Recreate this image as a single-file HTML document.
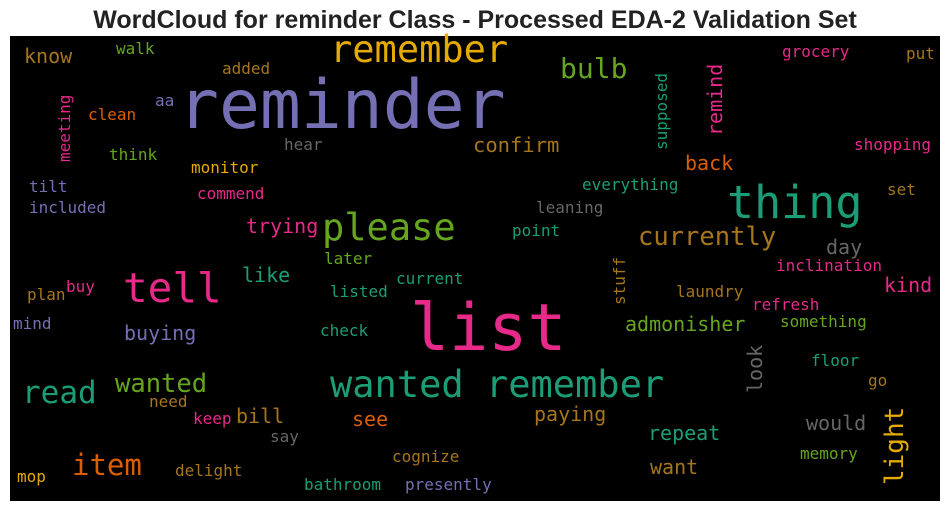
<!DOCTYPE html>
<html><head><meta charset="utf-8"><style>
html,body{margin:0;padding:0;background:#fff;width:950px;height:511px;overflow:hidden}
svg text.w{font-family:"DejaVu Sans Mono","Liberation Mono",monospace}
</style></head><body>
<svg id="cloud" width="950" height="511" viewBox="0 0 950 511" xmlns="http://www.w3.org/2000/svg">
<text x="475" y="28" text-anchor="middle" font-family="Liberation Sans, sans-serif" font-weight="bold" font-size="25" fill="#222">WordCloud for reminder Class - Processed EDA-2 Validation Set</text>
<rect x="10" y="36" width="930" height="465" fill="#000"/>
<g id="words"></g>
</svg>
<script>
const words = ["reminder","list","thing","tell","please","remember","wanted remember","read","item","bulb","currently","wanted","remind","light","look","meeting","supposed","stuff","confirm","back","day","kind","admonisher","trying","like","buying","bill","see","paying","repeat","want","would","know","walk","added","aa","clean","think","monitor","hear","commend","tilt","included","everything","leaning","point","later","current","listed","plan","buy","mind","check","laundry","refresh","something","inclination","grocery","put","shopping","set","floor","go","need","keep","say","memory","cognize","delight","mop","bathroom","presently"];
const sizes = [68,65,45,41,37,37,37,31,29,28,25.5,25.5,20,26,20,16,16,16,20.5,20,20,20,20,20,20,20,20,20,20,20,20,20,20,16,16,16,16,16,16,16,16,16,16,16,16,16,16,16,16,16,16,16,16,16,16,16,16,16,16,16,16,16,16,16,16,16,16,16,16,16,16,16];
const colorIdx = [2,3,0,3,4,5,0,0,1,4,6,4,3,5,7,3,0,6,6,1,7,3,4,3,0,2,6,1,6,0,6,7,6,4,6,2,1,4,5,7,3,2,2,0,7,0,4,0,0,6,3,2,0,6,3,4,3,3,6,3,6,0,6,6,3,7,4,6,6,5,0,2];
const rotated = [0,0,0,0,0,0,0,0,0,0,0,0,1,1,1,1,1,1,0,0,0,0,0,0,0,0,0,0,0,0,0,0,0,0,0,0,0,0,0,0,0,0,0,0,0,0,0,0,0,0,0,0,0,0,0,0,0,0,0,0,0,0,0,0,0,0,0,0,0,0,0,0];
const posX = [178,410,727,123,322,330,330,22,72,560,638,115,722,903,762,70,667,625,473,685,826,884,625,246,242,124,236,352,534,648,650,806,24,116,222,155,88,109,191,284,197,29,29,582,536,512,324,396,330,27,66,13,320,676,752,780,776,782,906,854,887,811,868,149,193,270,800,392,175,17,304,405];
const posY = [128,350,218,302,240,62,397,403,475,78,245,392,136,485,393,162,150,305,152,170,254,292,331,233,282,340,423,426,421,440,474,430,63,54,74,106,120,160,173,150,199,192,213,190,213,236,264,284,297,300,292,329,336,297,310,327,271,57,59,150,195,366,386,407,424,442,459,462,476,482,490,490];
const palette = ["#1b9e77","#d95f02","#7570b3","#e7298a","#66a61e","#e6ab02","#a6761d","#666666"];
const g = document.getElementById('words');
const NS = "http://www.w3.org/2000/svg";
words.forEach((w,i)=>{
  const t = document.createElementNS(NS,'text');
  t.setAttribute('class','w');
  t.setAttribute('font-size',sizes[i]);
  t.setAttribute('fill',palette[colorIdx[i]]);
  if(rotated[i]){
    t.setAttribute('transform','translate('+posX[i]+','+posY[i]+') rotate(-90)');
  } else {
    t.setAttribute('x',posX[i]);
    t.setAttribute('y',posY[i]);
  }
  t.textContent = w;
  
  
  g.appendChild(t);
});
</script>
</body></html>
